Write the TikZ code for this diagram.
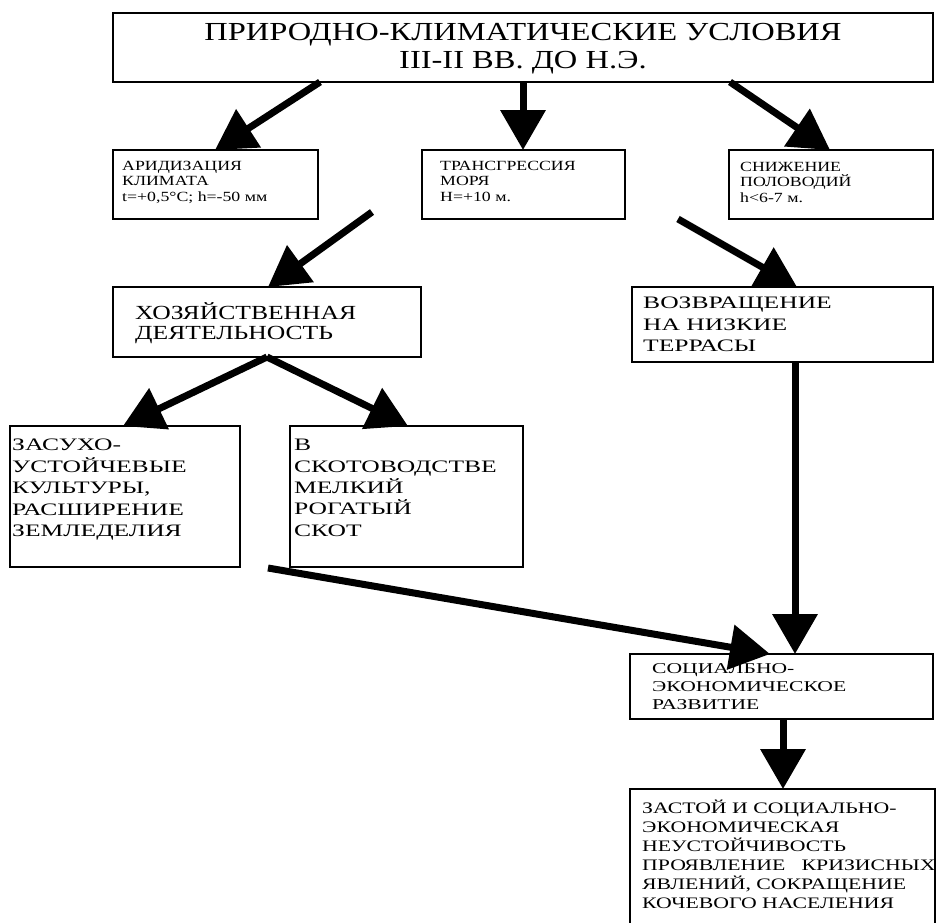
\documentclass[tikz,border=0pt]{standalone}
\usepackage{fontspec}
\setmainfont{Liberation Serif}
\newfontfamily\zztitle[FakeStretch=1.25]{Liberation Serif}
\newfontfamily\zzsmall[FakeStretch=1.27]{Liberation Serif}
\newfontfamily\zzhoz[FakeStretch=1.28]{Liberation Serif}
\newfontfamily\zzmid[FakeStretch=1.46]{Liberation Serif}
\newfontfamily\zzsoc[FakeStretch=1.44]{Liberation Serif}
\newfontfamily\zzbot[FakeStretch=1.36]{Liberation Serif}
\usetikzlibrary{arrows.meta,calc}
\begin{document}
\begin{tikzpicture}[x=1pt,y=-1pt,
  box/.style={draw=black,line width=1.8pt,inner sep=0pt,outer sep=0pt,anchor=north west},
  lbl/.style={inner sep=0pt,anchor=north west,align=left},
  arr/.style={line width=7pt,-{Triangle[length=40pt,width=44pt]}},
  small/.style={font=\zzsmall\fontsize{14}{15.5}\selectfont},
  mid/.style={font=\zzmid\fontsize{17.5}{21.4}\selectfont},
]
\useasboundingbox (0,0) rectangle (936,922);
% boxes
\node[box,minimum width=820pt,minimum height=69pt] (top) at (113,13) {};
\node[box,minimum width=205pt,minimum height=69pt] (arid) at (113,150) {};
\node[box,minimum width=203pt,minimum height=69pt] (trans) at (422,150) {};
\node[box,minimum width=204pt,minimum height=69pt] (snizh) at (729,150) {};
\node[box,minimum width=308pt,minimum height=70pt] (hoz) at (113,287) {};
\node[box,minimum width=301pt,minimum height=75pt] (vozvr) at (632,287) {};
\node[box,minimum width=230pt,minimum height=141pt] (zas) at (10,426) {};
\node[box,minimum width=233pt,minimum height=141pt] (skot) at (290,426) {};
\node[box,minimum width=303pt,minimum height=65pt] (soc) at (630,654) {};
\node[box,minimum width=305pt,minimum height=160pt] (bot) at (630,789) {};
% texts
\node[align=center,inner sep=0pt,font=\zztitle\fontsize{26}{28}\selectfont] (topT) at (523,49)
  {ПРИРОДНО-КЛИМАТИЧЕСКИЕ УСЛОВИЯ\\III-II ВВ. ДО Н.Э.};
\node[lbl,small] (aridT) at (122,161) {АРИДИЗАЦИЯ\\КЛИМАТА\\t=+0,5°C; h=-50 мм};
\node[lbl,small] (transT) at (440,161) {ТРАНСГРЕССИЯ\\МОРЯ\\H=+10 м.};
\node[lbl,small] (snizhT) at (740,162) {СНИЖЕНИЕ\\ПОЛОВОДИЙ\\h<6-7 м.};
\node[lbl,font=\zzhoz\fontsize{20}{20}\selectfont] (hozT) at (135,302) {ХОЗЯЙСТВЕННАЯ\\ДЕЯТЕЛЬНОСТЬ};
\node[lbl,mid] (vozvrT) at (643,297) {ВОЗВРАЩЕНИЕ\\НА НИЗКИЕ\\ТЕРРАСЫ};
\node[lbl,mid] (zasT) at (12,439) {ЗАСУХО-\\УСТОЙЧЕВЫЕ\\КУЛЬТУРЫ,\\РАСШИРЕНИЕ\\ЗЕМЛЕДЕЛИЯ};
\node[lbl,mid] (skotT) at (294,439) {В\\СКОТОВОДСТВЕ\\МЕЛКИЙ\\РОГАТЫЙ\\СКОТ};
\node[lbl,font=\zzsoc\fontsize{15}{18}\selectfont] (socT) at (652,663) {СОЦИАЛБНО-\\ЭКОНОМИЧЕСКОЕ\\РАЗВИТИЕ};
\node[lbl,font=\zzbot\fontsize{16}{19}\selectfont] (botT) at (642,800)
  {ЗАСТОЙ И СОЦИАЛЬНО-\\ЭКОНОМИЧЕСКАЯ\\НЕУСТОЙЧИВОСТЬ\\ПРОЯВЛЕНИЕ\ \ \ КРИЗИСНЫХ\\ЯВЛЕНИЙ, СОКРАЩЕНИЕ\\КОЧЕВОГО НАСЕЛЕНИЯ};
% free ends
\coordinate (s4) at (372,212);
\coordinate (s5) at (678,219);
\coordinate (s8) at (268,568);
% arrows
\draw[arr] ($(top.south west)+(207,0)$) -- ($(arid.north west)+(102,0)$);
\draw[arr] ($(top.south west)+(410,0)$) -- ($(trans.north west)+(101,0)$);
\draw[arr] ($(top.south west)+(617,0)$) -- ($(snizh.north west)+(101,0)$);
\draw[arr] (s4) -- ($(hoz.north west)+(155,0)$);
\draw[arr] (s5) -- ($(vozvr.north west)+(165,0)$);
\draw[arr] ($(hoz.south west)+(154,0)$) -- ($(zas.north west)+(113,0)$);
\draw[arr] ($(hoz.south west)+(154,0)$) -- ($(skot.north west)+(118,0)$);
\draw[arr] (s8) -- ($(soc.north west)+(140,0)$);
\draw[arr] ($(vozvr.south west)+(163,0)$) -- ($(soc.north west)+(165,0)$);
\draw[arr] ($(soc.south west)+(153,0)$) -- ($(bot.north west)+(153,0)$);
\end{tikzpicture}
\end{document}
